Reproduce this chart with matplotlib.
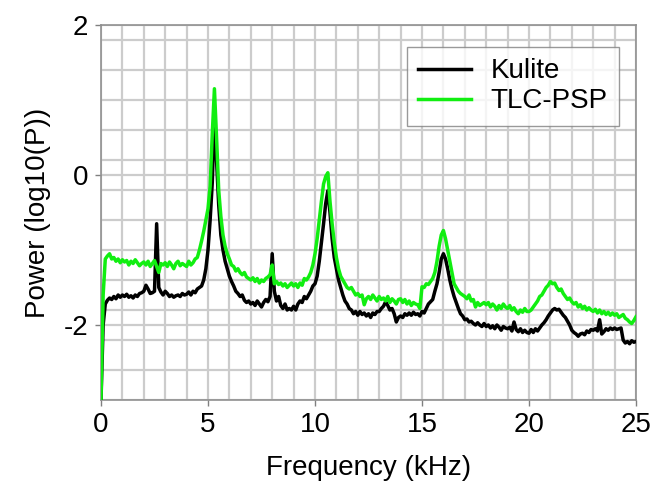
import numpy as np
import matplotlib
matplotlib.use("Agg")
import matplotlib.pyplot as plt

# Frequency grid (kHz)
freq = np.round(np.arange(0, 25.01, 0.1), 2)

kulite = [
    -3.0, -2.0, -1.72, -1.67, -1.64, -1.66, -1.62, -1.65, -1.60, -1.63,
    -1.60, -1.62, -1.59, -1.63, -1.61, -1.64, -1.60, -1.62, -1.58, -1.57,
    -1.55, -1.47, -1.52, -1.58, -1.57, -1.55, -0.65, -1.50, -1.56, -1.60,
    -1.55, -1.58, -1.62, -1.60, -1.63, -1.61, -1.60, -1.62, -1.58, -1.60,
    -1.59, -1.56, -1.60, -1.55, -1.57, -1.52, -1.50, -1.48, -1.40, -1.25,
    -1.00, -0.60, -0.10, 0.79, 0.20, -0.40, -0.80, -1.00, -1.15, -1.25,
    -1.35, -1.42, -1.48, -1.55, -1.58, -1.62, -1.60, -1.67, -1.70, -1.68,
    -1.72, -1.70, -1.74, -1.68, -1.72, -1.76, -1.70, -1.66, -1.69, -1.62,
    -1.05, -1.55, -1.68, -1.62, -1.74, -1.78, -1.72, -1.80, -1.78, -1.80,
    -1.75, -1.80, -1.72, -1.68, -1.70, -1.62, -1.65, -1.60, -1.55, -1.48,
    -1.45, -1.35, -1.15, -0.90, -0.65, -0.38, -0.21, -0.50, -0.85, -1.10,
    -1.25, -1.40, -1.50, -1.60, -1.68, -1.72, -1.78, -1.80, -1.85, -1.82,
    -1.87, -1.82, -1.86, -1.84, -1.88, -1.85, -1.90, -1.84, -1.86, -1.82,
    -1.82, -1.78, -1.75, -1.69, -1.74, -1.80, -1.78, -1.85, -1.96, -1.90,
    -1.88, -1.90, -1.85, -1.87, -1.84, -1.87, -1.83, -1.86, -1.85, -1.88,
    -1.82, -1.84, -1.78, -1.72, -1.69, -1.66, -1.55, -1.45, -1.30, -1.12,
    -1.05, -1.12, -1.25, -1.40, -1.52, -1.62, -1.70, -1.78, -1.85, -1.88,
    -1.93, -1.92, -1.96, -1.95, -1.98, -2.00, -1.97, -2.00, -2.02, -1.98,
    -2.02, -2.00, -2.04, -2.01, -2.05, -2.00, -2.03, -2.07, -2.02, -2.04,
    -2.05, -2.03, -2.08, -1.96, -2.06, -2.09, -2.05, -2.10, -2.07, -2.10,
    -2.11, -2.06, -2.10, -2.05, -2.08, -2.04, -2.00, -1.97, -1.93, -1.88,
    -1.84, -1.80, -1.78, -1.80, -1.79, -1.83, -1.87, -1.90, -1.95, -2.00,
    -2.07, -2.10, -2.12, -2.15, -2.12, -2.11, -2.13, -2.08, -2.10, -2.06,
    -2.07, -2.05, -2.08, -1.93, -2.12, -2.09, -2.05, -2.07, -2.04, -2.06,
    -2.04, -2.06, -2.05, -2.04, -2.20, -2.24, -2.22, -2.25, -2.21, -2.23,
    -2.22,
]

tlc_psp = [
    -3.0, -1.60, -1.12, -1.08, -1.05, -1.12, -1.10, -1.15, -1.12, -1.17,
    -1.13, -1.16, -1.14, -1.20, -1.15, -1.18, -1.13, -1.17, -1.21, -1.18,
    -1.16, -1.20, -1.15, -1.22, -1.18, -1.14, -1.22, -1.30, -1.18, -1.20,
    -1.17, -1.22, -1.16, -1.20, -1.25, -1.18, -1.15, -1.21, -1.18, -1.20,
    -1.22, -1.15, -1.20, -1.17, -1.12, -1.10, -1.00, -0.88, -0.75, -0.60,
    -0.45, -0.15, 0.55, 1.15, 0.50, -0.20, -0.55, -0.80, -0.95, -1.05,
    -1.12, -1.20, -1.22, -1.28, -1.25, -1.30, -1.33, -1.30, -1.36, -1.38,
    -1.40, -1.37, -1.42, -1.38, -1.44, -1.40, -1.42, -1.38, -1.36, -1.33,
    -1.20, -1.45, -1.42, -1.46, -1.44, -1.48, -1.45, -1.50, -1.47, -1.44,
    -1.48, -1.45, -1.50, -1.44, -1.47, -1.38, -1.40, -1.36, -1.30, -1.20,
    -1.05, -0.85, -0.60, -0.35, -0.12, -0.02, 0.03, -0.35, -0.65, -0.90,
    -1.10, -1.25, -1.35, -1.40, -1.45, -1.50, -1.52, -1.50, -1.55, -1.60,
    -1.58, -1.62, -1.60, -1.73, -1.65, -1.62, -1.66, -1.60, -1.64, -1.68,
    -1.62, -1.66, -1.64, -1.68, -1.62, -1.70, -1.65, -1.68, -1.72, -1.66,
    -1.65, -1.70, -1.66, -1.72, -1.68, -1.74, -1.70, -1.72, -1.73, -1.78,
    -1.49, -1.50, -1.45, -1.46, -1.42, -1.38, -1.30, -1.15, -0.95, -0.80,
    -0.74, -0.85, -1.00, -1.15, -1.30, -1.45, -1.50, -1.55, -1.58, -1.60,
    -1.62, -1.65, -1.60, -1.68, -1.66, -1.76, -1.70, -1.74, -1.72, -1.70,
    -1.73, -1.70, -1.76, -1.72, -1.75, -1.80, -1.74, -1.78, -1.72, -1.76,
    -1.78, -1.74, -1.80, -1.77, -1.82, -1.85, -1.80, -1.83, -1.78, -1.82,
    -1.82, -1.80, -1.76, -1.72, -1.68, -1.62, -1.60, -1.55, -1.50, -1.47,
    -1.42, -1.45, -1.44, -1.50, -1.54, -1.52, -1.58, -1.62, -1.66, -1.64,
    -1.69, -1.72, -1.70, -1.76, -1.73, -1.78, -1.75, -1.80, -1.77, -1.80,
    -1.82, -1.79, -1.84, -1.80, -1.85, -1.82, -1.86, -1.83, -1.87, -1.84,
    -1.87, -1.85, -1.90, -1.88, -1.86, -1.91, -1.93, -1.96, -1.98, -1.94,
    -1.89,
]

series_names = ["Kulite", "TLC-PSP"]
x_ticks = [0, 5, 10, 15, 20, 25]
y_ticks = [-2, 0, 2]

plt.rcParams['font.family'] = ['Liberation Sans', 'DejaVu Sans']
plt.rcParams['axes.unicode_minus'] = False

fig = plt.figure(figsize=(6.63, 4.83), dpi=100)
ax = fig.add_axes([101/663, 1 - 400/483, 535/663, 375/483])

ax.plot(freq, kulite, color='black', lw=2.5, label=series_names[0], zorder=3)
ax.plot(freq, tlc_psp, color='#11ee11', lw=2.5, label=series_names[1], zorder=4)

ax.set_xlim(0, 25)
ax.set_ylim(-3, 2)
ax.set_xticks(x_ticks)
ax.set_yticks(y_ticks)
ax.set_xticks(np.arange(0, 25.01, 1), minor=True)
ax.set_yticks(np.arange(-3, 2.01, 0.4), minor=True)
ax.grid(which='both', color='#cccccc', lw=1.6)
ax.set_axisbelow(True)
ax.tick_params(which='major', direction='out', length=4, width=1, color='#808080',
               labelsize=20, pad=5)
ax.tick_params(which='minor', length=0)
for s in ax.spines.values():
    s.set_color('#909090')
    s.set_linewidth(1.2)

ax.set_xlabel("Frequency (kHz)", fontsize=20, labelpad=12)
ax.set_ylabel("Power (log10(P))", fontsize=20, labelpad=9)

leg = ax.legend(loc='upper right', bbox_to_anchor=(0.968, 0.941), borderaxespad=0,
                fontsize=20, frameon=True, fancybox=False, edgecolor='#808080',
                handlelength=1.9, handletextpad=0.7, labelspacing=0.15,
                borderpad=0.4)
leg.get_frame().set_linewidth(1.0)
for l in leg.get_lines():
    l.set_linewidth(2.5)

fig.savefig("out.png", dpi=100)
